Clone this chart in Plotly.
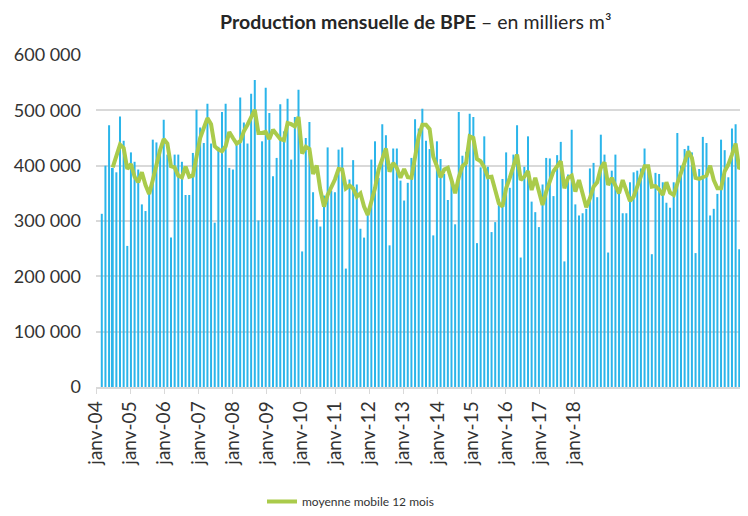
import plotly.graph_objects as go

# Monthly production (milliers m3), janv-2004 .. oct-2018 (in thousands)
production_k = [
    313, 400, 473, 396, 388, 489, 445, 255, 424, 407, 393, 330,
    318, 350, 447, 442, 430, 483, 420, 270, 420, 420, 407, 347,
    347, 423, 501, 469, 441, 512, 440, 297, 434, 497, 512, 396,
    393, 443, 523, 478, 440, 530, 555, 301, 444, 541, 495, 381,
    414, 511, 462, 521, 411, 488, 537, 245, 450, 479, 352, 303,
    290, 346, 433, 355, 352, 429, 433, 214, 375, 410, 366, 286,
    270, 315, 411, 444, 378, 475, 455, 256, 431, 431, 373, 337,
    369, 414, 484, 467, 503, 445, 430, 274, 444, 412, 385, 338,
    370, 294, 497, 418, 425, 494, 488, 260, 397, 453, 398, 280,
    298, 340, 376, 424, 360, 420, 473, 234, 398, 453, 335, 316,
    289, 366, 414, 413, 345, 419, 443, 227, 384, 465, 330, 310,
    314, 322, 395, 405, 343, 456, 420, 243, 391, 420, 353, 314,
    314, 370, 388, 391, 395, 431, 400, 240, 387, 385, 370, 333,
    324, 370, 459, 400, 430, 436, 424, 242, 394, 452, 441, 310,
    322, 349, 447, 428, 379, 467, 475, 249, 414, 478,
]

# "moyenne mobile 12 mois" line as drawn (starts at the 4th month), in thousands
moving_avg_k = [
    None, None, None,
    397, 418, 438, 432, 394, 403, 380, 370, 388,
    365, 349, 374, 405, 428, 448, 440, 399, 397, 382, 379, 398,
    380, 382, 414, 450, 468, 486, 475, 435, 429, 426, 435, 461,
    450, 440, 444, 462, 474, 489, 501, 459, 459, 461, 448, 465,
    456, 448, 446, 477, 475, 471, 488, 422, 434, 430, 385, 400,
    356, 326, 347, 360, 375, 394, 393, 359, 364, 359, 344, 350,
    326, 311, 332, 359, 393, 414, 431, 389, 405, 396, 378, 394,
    379, 378, 420, 453, 474, 474, 466, 416, 399, 379, 393, 396,
    374, 350, 379, 399, 405, 453, 450, 412, 408, 397, 379, 380,
    356, 332, 326, 359, 378, 399, 420, 374, 380, 390, 356, 378,
    350, 329, 353, 374, 390, 399, 408, 359, 378, 382, 353, 374,
    350, 325, 341, 362, 370, 396, 406, 365, 378, 365, 350, 374,
    353, 336, 344, 362, 382, 399, 399, 362, 363, 357, 347, 370,
    351, 347, 368, 390, 406, 426, 414, 378, 376, 379, 382, 400,
    374, 359, 359, 390, 402, 420, 440, 394, 402, 399,
]

x_tick_labels = ["janv-04", "janv-05", "janv-06", "janv-07", "janv-08", "janv-09",
                 "janv-10", "janv-11", "janv-12", "janv-13", "janv-14", "janv-15",
                 "janv-16", "janv-17", "janv-18"]
y_tick_values = [0, 100000, 200000, 300000, 400000, 500000, 600000]
y_tick_labels = ["0", "100 000", "200 000", "300 000", "400 000", "500 000", "600 000"]

production = [v * 1000 for v in production_k]
moving_avg = [None if v is None else v * 1000 for v in moving_avg_k]
months = list(range(len(production)))

# label positions as laid out in the original picture (in month units)
TICK0 = -1.59
TICK_STEP = 9.374
tick_positions = [TICK0 + k * TICK_STEP for k in range(len(x_tick_labels))]

FONT = "Lato"
TXT = "#333333"

fig = go.Figure()
fig.add_trace(go.Bar(
    x=months, y=production, marker=dict(color="#2BB5EA", line=dict(width=0)),
    showlegend=False, name="production",
))
fig.add_trace(go.Scatter(
    x=months, y=moving_avg, mode="lines", name="moyenne mobile 12 mois",
    line=dict(color="#AACB4B", width=4), connectgaps=False,
))

fig.update_layout(
    width=740, height=508,
    margin=dict(l=88, r=0, t=47, b=129),
    paper_bgcolor="white", plot_bgcolor="white",
    bargap=0.45,
    font=dict(family=FONT, color=TXT),
    title=dict(
        text="<b>Production mensuelle de BPE</b> – en milliers m³",
        x=0.551, xanchor="center", y=0.972, yanchor="middle",
        font=dict(family=FONT, size=19.5, color="#262626"),
    ),
    legend=dict(
        orientation="h", x=0.2546, xanchor="left", y=-0.3886, yanchor="bottom",
        font=dict(family=FONT, size=12, color=TXT), bgcolor="rgba(0,0,0,0)",
        itemwidth=30,
    ),
    xaxis=dict(
        range=[TICK0, 177.4], tickmode="array", tickvals=tick_positions,
        ticktext=x_tick_labels, tickangle=-90, ticks="outside", ticklen=5,
        tickcolor="#d9d9d9", showline=True, linecolor="#d9d9d9", linewidth=1.5,
        showgrid=False, zeroline=False, automargin=False,
        tickfont=dict(family=FONT, size=19, color=TXT),
    ),
    yaxis=dict(
        range=[0, 600000], tickmode="array", tickvals=y_tick_values,
        ticktext=y_tick_labels, showgrid=True, gridcolor="#d9d9d9", gridwidth=1.5,
        zeroline=False, showline=False, ticklabelstandoff=14, automargin=False,
        tickfont=dict(family=FONT, size=18, color=TXT),
    ),
)

fig.write_html("out.html")
